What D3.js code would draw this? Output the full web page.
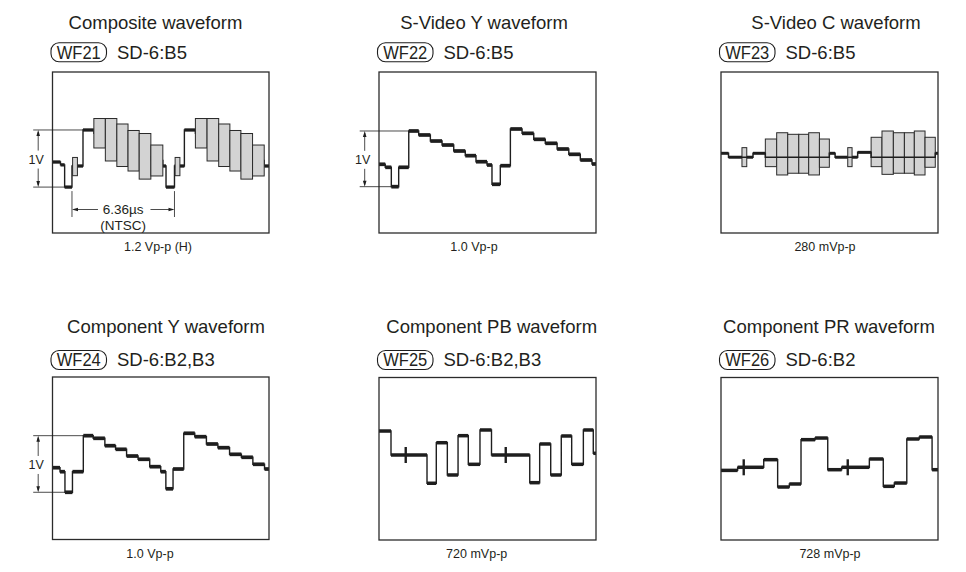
<!DOCTYPE html>
<html>
<head>
<meta charset="utf-8">
<script src="https://cdn.jsdelivr.net/npm/d3@7"></script>
<style>
body { margin: 0; background: #fff; }
svg { display: block; font-family: "Liberation Sans", Arial, Helvetica, sans-serif; }
.title { font-size: 18.5px; fill: #231f20; }
.badge { font-size: 18px; fill: #231f20; }
.small { font-size: 12.5px; fill: #231f20; }
.note { font-size: 13.5px; fill: #231f20; }
</style>
</head>
<body>
<script>
// time in microseconds, level in volts (0 = blanking level)
var titles = ["Composite waveform", "S-Video Y waveform", "S-Video C waveform",
              "Component Y waveform", "Component PB waveform", "Component PR waveform"];
var badges = ["WF21", "WF22", "WF23", "WF24", "WF25", "WF26"];
var sources = ["SD-6:B5", "SD-6:B5", "SD-6:B5", "SD-6:B2,B3", "SD-6:B2,B3", "SD-6:B2"];
var footnotes = ["1.2 Vp-p (H)", "1.0 Vp-p", "280 mVp-p", "1.0 Vp-p", "720 mVp-p", "728 mVp-p"];

// WF21 composite: segment start times, levels, and burst / colour bar envelopes [t0, t1, lo, hi]
var compT = [0, 5.0, 7.6, 12.2, 19.1, 25.9, 33.1, 40.3, 47.3, 54.3, 61.6, 69.1, 71.1, 76.4, 82.6,
             89.5, 96.8, 104.1, 111.1, 118.0, 125.3, 132.6, 135.6];
var compV = [0.07, 0.02, -0.37, 0, 0.632, 0.575, 0.461, 0.364, 0.268, 0.162, 0.096, 0, -0.37, 0, 0.632,
             0.575, 0.461, 0.364, 0.268, 0.162, 0.096, 0];
var compBars = [
    [12.6, 15.6, -0.17, 0.15],
    [25.9, 33.1, 0.316, 0.833], [33.1, 40.3, 0.088, 0.833], [40.3, 47.3, -0.009, 0.737],
    [47.3, 54.3, -0.088, 0.623], [54.3, 61.6, -0.23, 0.570], [61.6, 69.1, -0.175, 0.368],
    [76.8, 79.8, -0.17, 0.15],
    [89.5, 96.8, 0.316, 0.833], [96.8, 104.1, 0.088, 0.833], [104.1, 111.1, -0.009, 0.737],
    [111.1, 118.0, -0.088, 0.623], [118.0, 125.3, -0.23, 0.570], [125.3, 132.6, -0.175, 0.368]];

// WF22 S-Video Y
var svyT = [0, 3.9, 7.7, 12.3, 18.6, 24.8, 32.1, 39.4, 46.7, 53.9, 60.6, 67.5, 70.6, 75.8, 82.1,
            89.4, 96.7, 103.9, 111.3, 118.6, 125.8, 133.1, 135.6];
var svyV = [0.053, 0, -0.34, 0, 0.637, 0.567, 0.461, 0.391, 0.286, 0.204, 0.098, 0.04, -0.298, 0.028, 0.672,
            0.596, 0.491, 0.421, 0.321, 0.228, 0.128, 0.058];

// WF23 S-Video C
var svcT = [0, 4.7, 20.0, 27.7, 34.8, 41.7, 48.6, 54.8, 61.5, 67.7, 71.3, 85.4, 93.8,
            100.6, 107.7, 114.6, 120.8, 127.5, 133.9, 135.6];
var svcV = [0.014, -0.011, 0.014, -0.011, -0.011, -0.011, -0.011, -0.011, -0.011, 0.014, -0.011, 0.02,
            -0.011, -0.011, -0.011, -0.011, -0.011, -0.011, 0.014];
var svcBars = [
    [13.1, 16.1, -0.071, 0.05],
    [27.7, 34.8, -0.071, 0.105], [34.8, 41.7, -0.124, 0.145], [41.7, 48.6, -0.113, 0.135],
    [48.6, 54.8, -0.113, 0.135], [54.8, 61.5, -0.124, 0.145], [61.5, 67.7, -0.075, 0.105],
    [79.2, 81.9, -0.071, 0.05],
    [93.8, 100.6, -0.071, 0.116], [100.6, 107.7, -0.12, 0.156], [107.7, 114.6, -0.113, 0.145],
    [114.6, 120.8, -0.113, 0.145], [120.8, 127.5, -0.124, 0.156], [127.5, 133.9, -0.075, 0.116]];

// WF24 component Y
var cyT = [0, 4.7, 7.8, 12.5, 19.3, 25.5, 32.8, 39.5, 46.4, 53.6, 60.9, 67.8, 71.0, 75.5, 82.2,
           89.1, 96.4, 103.6, 110.9, 118.3, 125.5, 132.8, 135.6];
var cyV = [0.07, 0, -0.361, 0, 0.632, 0.586, 0.456, 0.393, 0.275, 0.218, 0.088, 0, -0.3, 0.047, 0.674,
           0.614, 0.486, 0.421, 0.305, 0.253, 0.13, 0.047];

// WF25 component PB
var pbT = [0, 7.5, 30.0, 35.8, 42.7, 49.4, 55.8, 63.1, 70.3, 94.2, 100.4, 107.3, 113.9, 120.4, 127.7, 133.9, 135.6];
var pbV = [0.324, 0, -0.382, 0.166, -0.27, 0.261, -0.126, 0.338, 0, -0.374, 0.149, -0.27, 0.257, -0.126, 0.338, 0.023];
var pbMarks = [[16.7, 0], [79.2, 0]];

// WF26 component PR
var prT = [0, 10.4, 26.7, 35.4, 42.7, 50.0, 58.8, 66.7, 75.4, 92.7, 101.4, 108.3, 116.1, 123.9, 131.9, 135.6];
var prV = [-0.01, 0.035, 0.146, -0.252, -0.208, 0.437, 0.461, 0, 0.035, 0.156, -0.242, -0.194, 0.447, 0.476, 0];
var prMarks = [[14.2, 0.035], [79.2, 0.035]];

var timeSpan = [0, 135.6];
var periodLabel = ["6.36\u00b5s", "(NTSC)"];

var waves = [
    {t: compT, v: compV, bars: compBars, marks: [], oneVolt: true, period: true},
    {t: svyT, v: svyV, bars: [], marks: [], oneVolt: true},
    {t: svcT, v: svcV, bars: svcBars, marks: [], lineOver: true},
    {t: cyT, v: cyV, bars: [], marks: [], oneVolt: true},
    {t: pbT, v: pbV, bars: [], marks: pbMarks},
    {t: prT, v: prV, bars: [], marks: prMarks}
];

// screen layout of the six panels
var layout = [
    {x: 52.5, y: 72, w: 216.5, h: 161, zero: 94, pxPerV: 57, bold: 3.3, titleX: 155.5, titleY: 29.3, badgeY: 42.7, footX: 158, footY: 250.5},
    {x: 379, y: 72, w: 217, h: 161, zero: 95.3, pxPerV: 57, bold: 3.7, titleX: 484, titleY: 29.3, badgeY: 42.7, footX: 474, footY: 250.5},
    {x: 721, y: 72, w: 217, h: 161, zero: 83.5, pxPerV: 157, bold: 3.0, titleX: 836, titleY: 29.3, badgeY: 42.7, footX: 825, footY: 250.5},
    {x: 52.5, y: 377, w: 216.5, h: 162.5, zero: 94.7, pxPerV: 57, bold: 3.7, titleX: 166, titleY: 332.5, badgeY: 350.5, footX: 150, footY: 558},
    {x: 379, y: 377.5, w: 217, h: 162.5, zero: 77.5, pxPerV: 74, bold: 3.5, titleX: 491.7, titleY: 332.5, badgeY: 350.5, footX: 476.7, footY: 558},
    {x: 721, y: 377.5, w: 217, h: 162.5, zero: 92.2, pxPerV: 68.7, bold: 3.5, titleX: 829, titleY: 332.5, badgeY: 350.5, footX: 830, footY: 558}
];

var ink = "#1e1e1e";
var barFill = "#d3d3d3";

var svg = d3.select("body").append("svg")
    .attr("width", 966)
    .attr("height", 572);

function arrowHead(g, x, y, dir) {
    // dir: "up", "down", "left", "right"
    var p;
    if (dir === "up") p = [[x, y], [x - 1.8, y + 6], [x + 1.8, y + 6]];
    if (dir === "down") p = [[x, y], [x - 1.8, y - 6], [x + 1.8, y - 6]];
    if (dir === "left") p = [[x, y], [x + 6, y - 1.8], [x + 6, y + 1.8]];
    if (dir === "right") p = [[x, y], [x - 6, y - 1.8], [x - 6, y + 1.8]];
    g.append("path")
        .attr("d", "M" + p.join("L") + "Z")
        .attr("fill", ink);
}

layout.forEach(function(L, i) {
    var wave = waves[i];

    svg.append("text")
        .attr("class", "title")
        .attr("x", L.titleX)
        .attr("y", L.titleY)
        .attr("text-anchor", "middle")
        .text(titles[i]);

    svg.append("rect")
        .attr("x", L.x - 1.5)
        .attr("y", L.badgeY)
        .attr("width", 55.5)
        .attr("height", 19)
        .attr("rx", 8)
        .attr("ry", 8)
        .attr("fill", "none")
        .attr("stroke", ink)
        .attr("stroke-width", 1.1);

    svg.append("text")
        .attr("class", "badge")
        .attr("x", L.x - 1.5 + 55.5 / 2)
        .attr("y", L.badgeY + 15.8)
        .attr("text-anchor", "middle")
        .attr("textLength", 44)
        .attr("lengthAdjust", "spacingAndGlyphs")
        .text(badges[i]);

    svg.append("text")
        .attr("class", "title")
        .attr("x", L.x - 1.5 + 55.5 + 10.5)
        .attr("y", L.badgeY + 15.8)
        .text(sources[i]);

    svg.append("text")
        .attr("class", "small")
        .attr("x", L.footX)
        .attr("y", L.footY)
        .attr("text-anchor", "middle")
        .text(footnotes[i]);

    var x = d3.scaleLinear()
        .domain(timeSpan)
        .range([0, L.w]);

    var y = d3.scaleLinear()
        .domain([-(L.h - L.zero) / L.pxPerV, L.zero / L.pxPerV])
        .range([L.h, 0]);

    var g = svg.append("g")
        .attr("transform", "translate(" + L.x + "," + L.y + ")");

    var points = wave.t.map(function(t, k) {
        return [t, wave.v[Math.min(k, wave.v.length - 1)]];
    });

    var line = d3.line()
        .x(function(d) { return x(d[0]); })
        .y(function(d) { return y(d[1]); })
        .curve(d3.curveStepAfter);

    var segments = wave.v.map(function(v, k) {
        return {t0: wave.t[k], t1: wave.t[k + 1], v: v};
    }).filter(function(s) {
        return !wave.bars.some(function(b) { return b[0] <= s.t0 + 0.01 && b[1] >= s.t1 - 0.01; });
    });

    if (!wave.lineOver) {
        g.append("path")
            .attr("d", line(points))
            .attr("fill", "none")
            .attr("stroke", ink)
            .attr("stroke-width", 1.4);
    }

    g.selectAll(".level")
        .data(segments)
        .enter()
        .append("line")
        .attr("class", "level")
        .attr("x1", function(d) { return x(d.t0); })
        .attr("x2", function(d) { return x(d.t1); })
        .attr("y1", function(d) { return y(d.v); })
        .attr("y2", function(d) { return y(d.v); })
        .attr("stroke", ink)
        .attr("stroke-width", L.bold);

    g.selectAll(".bar")
        .data(wave.bars)
        .enter()
        .append("rect")
        .attr("class", "bar")
        .attr("x", function(d) { return x(d[0]); })
        .attr("y", function(d) { return y(d[3]); })
        .attr("width", function(d) { return x(d[1]) - x(d[0]); })
        .attr("height", function(d) { return y(d[2]) - y(d[3]); })
        .attr("fill", barFill)
        .attr("stroke", "#2a2a2a")
        .attr("stroke-width", 1);

    if (wave.lineOver) {
        g.append("path")
            .attr("d", line(points))
            .attr("fill", "none")
            .attr("stroke", ink)
            .attr("stroke-width", 1.5);
    }

    g.selectAll(".mark")
        .data(wave.marks)
        .enter()
        .append("line")
        .attr("class", "mark")
        .attr("x1", function(d) { return x(d[0]); })
        .attr("x2", function(d) { return x(d[0]); })
        .attr("y1", function(d) { return y(d[1]) - 8; })
        .attr("y2", function(d) { return y(d[1]) + 8; })
        .attr("stroke", ink)
        .attr("stroke-width", 2.4);

    g.append("rect")
        .attr("width", L.w)
        .attr("height", L.h)
        .attr("fill", "none")
        .attr("stroke", "#2b2b2b")
        .attr("stroke-width", 1.3);

    if (wave.oneVolt) {
        // white level (index 4) to sync tip (index 2)
        var yTop = y(wave.v[4]), yBot = y(wave.v[2]);
        var ax = -14.3, mid = (yTop + yBot) / 2;
        g.append("line")
            .attr("x1", -19.3).attr("x2", x(wave.t[4]))
            .attr("y1", yTop).attr("y2", yTop)
            .attr("stroke", ink).attr("stroke-width", 0.8);
        g.append("line")
            .attr("x1", -19.3).attr("x2", x(wave.t[2]))
            .attr("y1", yBot).attr("y2", yBot)
            .attr("stroke", ink).attr("stroke-width", 0.8);
        g.append("line")
            .attr("x1", ax).attr("x2", ax)
            .attr("y1", yTop + 2).attr("y2", mid - 8)
            .attr("stroke", ink).attr("stroke-width", 0.8);
        g.append("line")
            .attr("x1", ax).attr("x2", ax)
            .attr("y1", mid + 10).attr("y2", yBot - 2)
            .attr("stroke", ink).attr("stroke-width", 0.8);
        arrowHead(g, ax, yTop, "up");
        arrowHead(g, ax, yBot, "down");
        g.append("text")
            .attr("class", "small")
            .attr("x", ax - 2)
            .attr("y", mid + 5.5)
            .attr("text-anchor", "middle")
            .text("1V");
    }

    if (wave.period) {
        // sync rising edge to next sync rising edge
        var xa = x(wave.t[3]), xb = x(wave.t[13]);
        var ya = y(wave.v[2]) + 4, yl = 137.5;
        [xa, xb].forEach(function(xx) {
            g.append("line")
                .attr("x1", xx).attr("x2", xx)
                .attr("y1", ya).attr("y2", 145)
                .attr("stroke", ink).attr("stroke-width", 0.8);
        });
        g.append("line")
            .attr("x1", xa + 2).attr("x2", xa + 26)
            .attr("y1", yl).attr("y2", yl)
            .attr("stroke", ink).attr("stroke-width", 0.8);
        g.append("line")
            .attr("x1", xb - 24).attr("x2", xb - 2)
            .attr("y1", yl).attr("y2", yl)
            .attr("stroke", ink).attr("stroke-width", 0.8);
        arrowHead(g, xa, yl, "left");
        arrowHead(g, xb, yl, "right");
        g.append("text")
            .attr("class", "note")
            .attr("x", (xa + xb) / 2)
            .attr("y", 141.8)
            .attr("text-anchor", "middle")
            .text(periodLabel[0]);
        g.append("text")
            .attr("class", "note")
            .attr("x", (xa + xb) / 2)
            .attr("y", 157.5)
            .attr("text-anchor", "middle")
            .text(periodLabel[1]);
    }
});
</script>
</body>
</html>
